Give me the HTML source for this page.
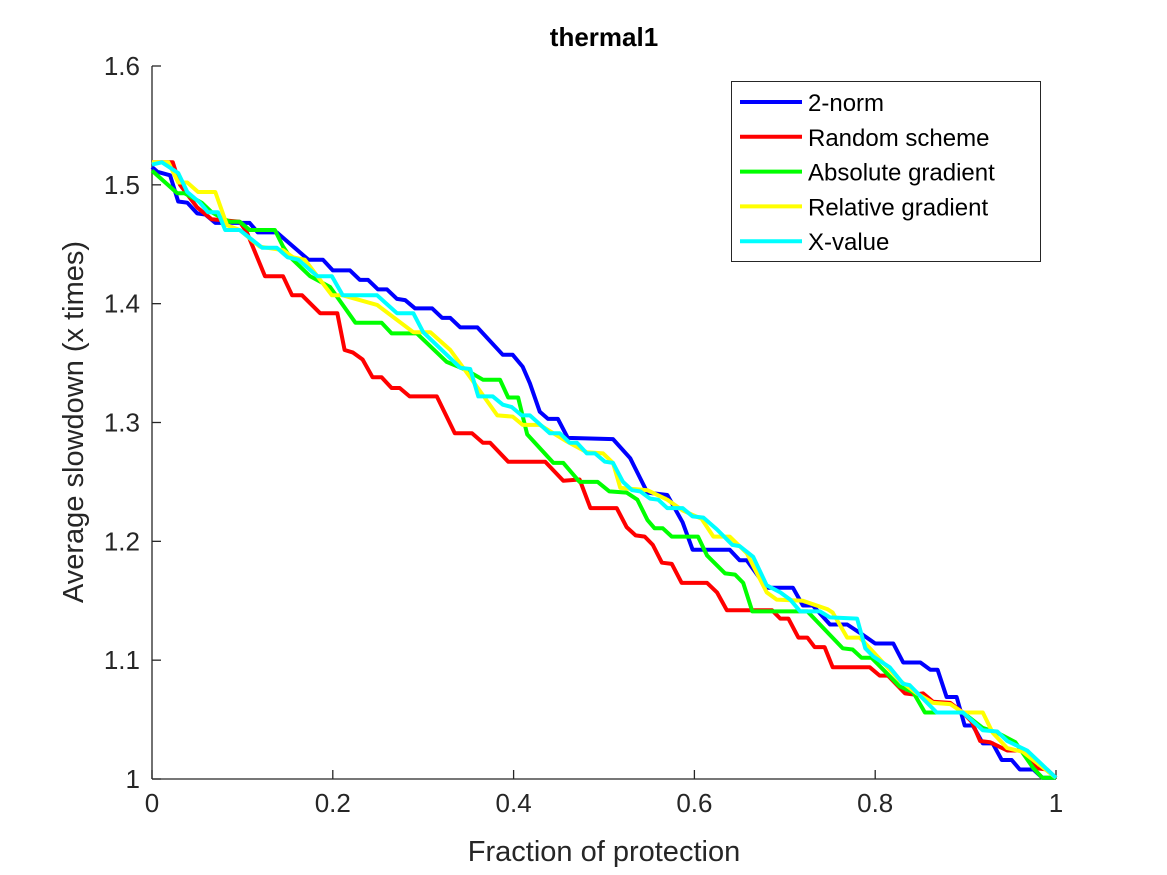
<!DOCTYPE html>
<html><head><meta charset="utf-8"><style>
body{margin:0;background:#fff}
svg{display:block;font-family:"Liberation Sans",Arial,sans-serif}
</style></head><body>
<svg id="chart" width="1167" height="875" viewBox="0 0 1167 875" xmlns="http://www.w3.org/2000/svg">
<rect width="1167" height="875" fill="#fff"/>
<text x="604" y="46" text-anchor="middle" font-size="26" font-weight="bold" fill="#000">thermal1</text>
<g id="axes"></g>
<g id="series"></g>
<text x="604" y="861" text-anchor="middle" font-size="29" fill="#262626">Fraction of protection</text>
<text transform="translate(83,422) rotate(-90)" text-anchor="middle" font-size="29" fill="#262626">Average slowdown (x times)</text>
<g id="legend"></g>
</svg>
<script>
const xTicks=[0,0.2,0.4,0.6,0.8,1];
const xTickLabels=["0","0.2","0.4","0.6","0.8","1"];
const yTicks=[1,1.1,1.2,1.3,1.4,1.5,1.6];
const yTickLabels=["1","1.1","1.2","1.3","1.4","1.5","1.6"];
const seriesNames=["2-norm","Random scheme","Absolute gradient","Relative gradient","X-value"];
const seriesColors=["#0000ff","#ff0000","#00ff00","#ffff00","#00ffff"];
const blueX=[0,.006,.020,.029,.039,.050,.059,.070,.108,.117,.138,.173,.189,.200,.219,.230,.239,.250,.260,.271,.280,.291,.310,.321,.330,.341,.360,.388,.399,.410,.418,.429,.438,.449,.460,.510,.529,.548,.570,.587,.598,.639,.650,.658,.680,.709,.720,.731,.750,.769,.787,.800,.820,.831,.850,.861,.869,.879,.890,.899,.908,.919,.930,.940,.951,.960,.975,.985,1];
const blueY=[1.515,1.511,1.508,1.486,1.485,1.476,1.475,1.468,1.468,1.460,1.460,1.437,1.437,1.428,1.428,1.420,1.420,1.412,1.412,1.404,1.403,1.396,1.396,1.388,1.388,1.380,1.380,1.357,1.357,1.347,1.333,1.309,1.303,1.303,1.287,1.286,1.270,1.241,1.239,1.216,1.193,1.193,1.184,1.184,1.161,1.161,1.146,1.146,1.130,1.130,1.121,1.114,1.114,1.098,1.098,1.092,1.092,1.069,1.069,1.045,1.045,1.030,1.030,1.016,1.016,1.008,1.008,1.001,1.001];
const redX=[0,.023,.031,.050,.066,.097,.105,.125,.145,.155,.166,.186,.205,.213,.222,.233,.244,.254,.265,.274,.285,.315,.335,.354,.366,.374,.394,.435,.455,.473,.485,.514,.525,.535,.545,.554,.564,.575,.586,.614,.625,.636,.686,.695,.704,.715,.725,.733,.744,.753,.794,.805,.814,.833,.844,.853,.864,.883,.897,.907,.916,.927,.946,.962,.979,.990,1];
const redY=[1.519,1.519,1.500,1.481,1.471,1.469,1.460,1.423,1.423,1.407,1.407,1.392,1.392,1.361,1.359,1.353,1.338,1.338,1.329,1.329,1.322,1.322,1.291,1.291,1.283,1.283,1.267,1.267,1.251,1.252,1.228,1.228,1.212,1.205,1.204,1.197,1.182,1.181,1.165,1.165,1.157,1.142,1.142,1.135,1.135,1.119,1.119,1.111,1.111,1.094,1.094,1.087,1.087,1.072,1.071,1.072,1.065,1.064,1.056,1.048,1.032,1.031,1.024,1.024,1.009,1.008,1.001];
const greenX=[0,.028,.036,.055,.066,.075,.086,.097,.108,.136,.145,.153,.175,.197,.225,.254,.265,.293,.326,.348,.366,.385,.394,.405,.415,.444,.455,.473,.493,.506,.525,.537,.548,.556,.565,.575,.604,.614,.634,.645,.654,.664,.725,.764,.775,.785,.796,.827,.842,.855,.897,.919,.935,.955,.975,.985,1];
const greenY=[1.512,1.493,1.493,1.485,1.477,1.473,1.469,1.469,1.462,1.462,1.448,1.439,1.423,1.414,1.384,1.384,1.375,1.375,1.351,1.344,1.336,1.336,1.321,1.321,1.290,1.266,1.266,1.250,1.250,1.242,1.241,1.235,1.218,1.211,1.211,1.204,1.204,1.188,1.173,1.172,1.165,1.141,1.141,1.110,1.109,1.102,1.102,1.078,1.073,1.056,1.056,1.043,1.039,1.031,1.009,1.001,1.001];
const yellowX=[0,.018,.029,.039,.051,.070,.083,.097,.119,.145,.156,.169,.199,.211,.249,.289,.308,.330,.352,.382,.399,.410,.429,.459,.481,.499,.510,.518,.548,.570,.587,.608,.621,.639,.658,.680,.691,.720,.747,.753,.769,.783,.794,.827,.846,.864,.883,.897,.919,.930,.946,.963,1];
const yellowY=[1.519,1.519,1.502,1.502,1.494,1.494,1.466,1.462,1.448,1.445,1.439,1.437,1.407,1.407,1.399,1.376,1.376,1.361,1.338,1.306,1.305,1.298,1.298,1.284,1.275,1.274,1.266,1.245,1.243,1.235,1.226,1.219,1.204,1.204,1.190,1.157,1.151,1.150,1.143,1.140,1.119,1.119,1.110,1.083,1.072,1.064,1.063,1.056,1.056,1.039,1.026,1.023,1.001];
const cyanX=[0,.011,.029,.039,.053,.062,.073,.081,.097,.122,.138,.150,.162,.183,.199,.211,.249,.271,.289,.300,.341,.352,.361,.377,.388,.398,.409,.418,.440,.451,.462,.470,.481,.490,.501,.510,.521,.531,.540,.551,.560,.570,.587,.598,.610,.625,.642,.650,.665,.680,.695,.706,.717,.739,.750,.780,.789,.798,.816,.831,.838,.868,.897,.919,.935,.946,.968,1];
const cyanY=[1.517,1.519,1.510,1.494,1.485,1.477,1.477,1.462,1.462,1.447,1.447,1.439,1.437,1.423,1.423,1.407,1.407,1.392,1.392,1.376,1.346,1.345,1.322,1.322,1.315,1.313,1.306,1.306,1.291,1.291,1.283,1.283,1.274,1.274,1.267,1.266,1.250,1.243,1.242,1.236,1.235,1.228,1.228,1.221,1.220,1.210,1.197,1.196,1.187,1.163,1.157,1.151,1.141,1.141,1.136,1.135,1.110,1.103,1.094,1.080,1.079,1.056,1.056,1.041,1.040,1.032,1.024,1.001];

const NS="http://www.w3.org/2000/svg";
const L=152,R=1056,T=66,B=779;
function sx(v){return L+(v-0)/(1-0)*(R-L);}
function sy(v){return B-(v-1)/(1.6-1)*(B-T);}
function mk(tag,attrs,parent){const e=document.createElementNS(NS,tag);for(const k in attrs)e.setAttribute(k,attrs[k]);parent.appendChild(e);return e;}
const axes=document.getElementById('axes');
const xl=mk('line',{x1:L,y1:B,x2:R,y2:B,stroke:'#262626','stroke-width':1.3},axes);


const yl=mk('line',{x1:L,y1:T,x2:L,y2:B,stroke:'#262626','stroke-width':1.3},axes);


xTicks.forEach((v,i)=>{
  const t=mk('line',{x1:sx(v),y1:B,x2:sx(v),y2:B-9,stroke:'#262626','stroke-width':1.3},axes);
  
  
  const lb=mk('text',{x:sx(v),y:B+33,'text-anchor':'middle','font-size':26,fill:'#262626'},axes);
  
  
  lb.textContent=xTickLabels[i];
});
yTicks.forEach((v,i)=>{
  const t=mk('line',{x1:L,y1:sy(v),x2:L+9,y2:sy(v),stroke:'#262626','stroke-width':1.3},axes);
  
  
  const lb=mk('text',{x:L-12,y:sy(v)+9,'text-anchor':'end','font-size':26,fill:'#262626'},axes);
  
  
  lb.textContent=yTickLabels[i];
});
const allX=[blueX,redX,greenX,yellowX,cyanX],allY=[blueY,redY,greenY,yellowY,cyanY];
const slugs=['series-2-norm','series-random-scheme','series-absolute-gradient','series-relative-gradient','series-x-value'];
const sg=document.getElementById('series');
allX.forEach((xs,k)=>{
  const ys=allY[k];
  const d=xs.map((x,i)=>(i?'L':'M')+sx(x).toFixed(1)+','+sy(ys[i]).toFixed(1)).join('');
  const p=mk('path',{d:d,fill:'none',stroke:seriesColors[k],'stroke-width':4,'stroke-linejoin':'round'},sg);
  
  
});
const lg=document.getElementById('legend');
const box=mk('rect',{x:731.5,y:81.5,width:309,height:180,fill:'#fff',stroke:'#262626','stroke-width':1},lg);


seriesNames.forEach((n,k)=>{
  const y=102+k*34.8;
  const ln=mk('line',{x1:740,y1:y,x2:802,y2:y,stroke:seriesColors[k],'stroke-width':4},lg);
  
  
  const tx=mk('text',{x:808,y:y+9,'font-size':24,fill:'#000'},lg);
  
  
  tx.textContent=n;
});
</script>
</body></html>
